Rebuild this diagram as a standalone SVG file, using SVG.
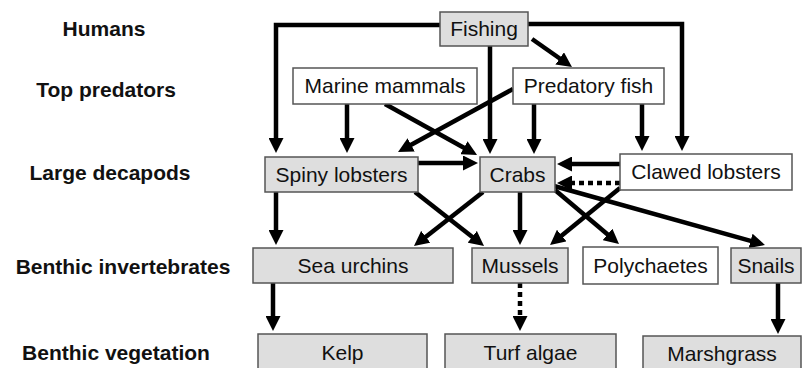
<svg xmlns="http://www.w3.org/2000/svg" width="806" height="368" viewBox="0 0 806 368">
<style>
.lvl{font-family:"Liberation Sans",Arial,sans-serif;font-size:21px;font-weight:bold;fill:#111;text-anchor:middle}
.t{font-family:"Liberation Sans",Arial,sans-serif;font-size:21px;fill:#111;text-anchor:middle}
.g{fill:#dedede;stroke:#555;stroke-width:1.5}
.w{fill:#fff;stroke:#555;stroke-width:1.5}
.c{fill:none;stroke:#000;stroke-width:4.5;marker-end:url(#ah)}
.d{stroke-dasharray:5 4}
</style>
<defs>
<marker id="ah" viewBox="0 0 15 15" refX="1" refY="7.5" markerWidth="15" markerHeight="15" markerUnits="userSpaceOnUse" orient="auto">
<path d="M0,0 L15,7.5 L0,15 z" fill="#000"/>
</marker>
</defs>
<rect width="806" height="368" fill="#fff"/>
<g id="levels">
<text class="lvl" x="104" y="36">Humans</text>
<text class="lvl" x="106" y="97">Top predators</text>
<text class="lvl" x="110" y="180">Large decapods</text>
<text class="lvl" x="123" y="274">Benthic invertebrates</text>
<text class="lvl" x="116" y="360">Benthic vegetation</text>
</g>
<g id="connectors">
<path class="c" d="M440,25 H276 V139"/>
<path class="c" d="M528,24 H682 V137"/>
<path class="c" d="M490,46 V140"/>
<path class="c" d="M532,39 L560.5,59"/>
<path class="c" d="M347,104 V139"/>
<path class="c" d="M385,104 L464.8,148.2"/>
<path class="c" d="M513,89 L410.3,145.3"/>
<path class="c" d="M534,104 V140"/>
<path class="c" d="M642,104 V137"/>
<path class="c" d="M418,163 H464"/>
<path class="c" d="M620,164 H571"/>
<path class="c d" d="M620,183 H571"/>
<path class="c" d="M276,192 V231"/>
<path class="c" d="M415,192 L473,237.4"/>
<path class="c" d="M483,192 L425,237.4"/>
<path class="c" d="M520,192 V231"/>
<path class="c" d="M620,188 L560.9,236.2"/>
<path class="c" d="M555,190 L608.3,235"/>
<path class="c" d="M554,186 L751.5,241.2"/>
<path class="c" d="M273,283 V317"/>
<path class="c d" d="M520,283 V317"/>
<path class="c" d="M778,283 V320"/>
</g>
<g id="fishing"><rect class="g" x="440" y="12" width="88" height="34"/><text class="t" x="484" y="36">Fishing</text></g>
<g id="marine-mammals"><rect class="w" x="293" y="68" width="184" height="36"/><text class="t" x="385" y="93">Marine mammals</text></g>
<g id="predatory-fish"><rect class="w" x="513" y="68" width="151" height="36"/><text class="t" x="588.5" y="93">Predatory fish</text></g>
<g id="spiny-lobsters"><rect class="g" x="265" y="157" width="153" height="35"/><text class="t" x="341.5" y="182">Spiny lobsters</text></g>
<g id="crabs"><rect class="g" x="480" y="157" width="75" height="35"/><text class="t" x="517.5" y="182">Crabs</text></g>
<g id="clawed-lobsters"><rect class="w" x="620" y="154" width="172" height="36"/><text class="t" x="706" y="179">Clawed lobsters</text></g>
<g id="sea-urchins"><rect class="g" x="253" y="248" width="200" height="35"/><text class="t" x="353" y="273">Sea urchins</text></g>
<g id="mussels"><rect class="g" x="472" y="248" width="96" height="35"/><text class="t" x="520" y="273">Mussels</text></g>
<g id="polychaetes"><rect class="w" x="583" y="247" width="135" height="37"/><text class="t" x="650.5" y="273">Polychaetes</text></g>
<g id="snails"><rect class="g" x="731" y="248" width="70" height="35"/><text class="t" x="766" y="273">Snails</text></g>
<g id="kelp"><rect class="g" x="258" y="334" width="169" height="40"/><text class="t" x="342.5" y="360">Kelp</text></g>
<g id="turf-algae"><rect class="g" x="445" y="334" width="171" height="40"/><text class="t" x="530.5" y="360">Turf algae</text></g>
<g id="marshgrass"><rect class="g" x="643" y="336" width="158" height="40"/><text class="t" x="722" y="361">Marshgrass</text></g>
</svg>
